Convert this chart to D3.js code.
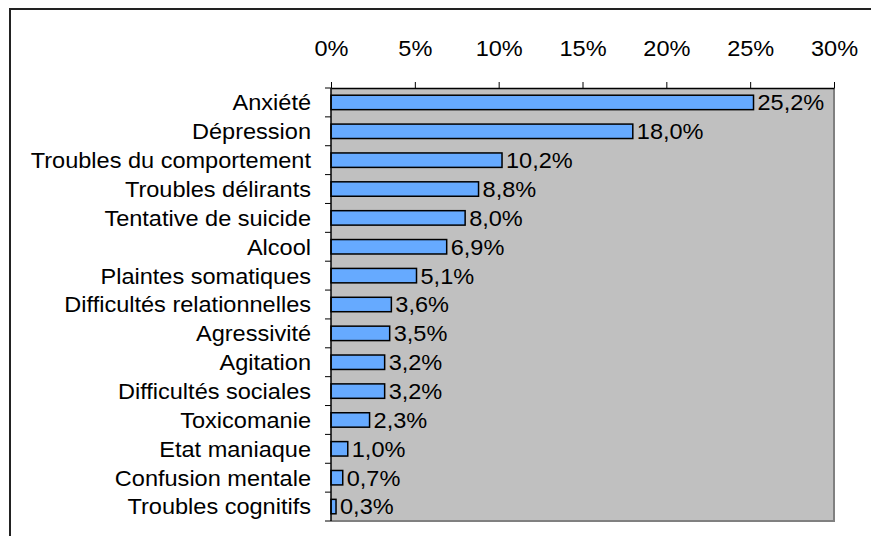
<!DOCTYPE html>
<html>
<head>
<meta charset="utf-8">
<script src="https://cdn.jsdelivr.net/npm/d3@7"></script>
<style>
  body { margin: 0; background: #fff; }
  text { font-family: "Liberation Sans", Arial, sans-serif; }
</style>
</head>
<body>
<div id="vis"></div>
<script>
const categories = ["Anxiété", "Dépression", "Troubles du comportement", "Troubles délirants",
        "Tentative de suicide", "Alcool", "Plaintes somatiques", "Difficultés relationnelles",
        "Agressivité", "Agitation", "Difficultés sociales", "Toxicomanie", "Etat maniaque",
        "Confusion mentale", "Troubles cognitifs"];
const values = [25.2, 18.0, 10.2, 8.8, 8.0, 6.9, 5.1, 3.6, 3.5, 3.2, 3.2, 2.3, 1.0, 0.7, 0.3];
const ticks = [0, 5, 10, 15, 20, 25, 30];

const width = 871;
const height = 536;
const margin = {left: 331, top: 88, right: 37, bottom: 15};
const fontSize = 22;
const stretch = 1.07; // text in the original is drawn a little wide

const svg = d3.select("#vis")
        .append("svg")
        .attr("width", width)
        .attr("height", height);

// outer frame of the chart
svg.append("rect")
        .attr("x", 10)
        .attr("y", 9)
        .attr("width", width + 20)
        .attr("height", height + 20)
        .attr("fill", "#fff")
        .attr("stroke", "#222")
        .attr("stroke-width", 2);

const xScale = d3.scaleLinear()
        .domain([0, 30])
        .range([margin.left, width - margin.right]);

const yScale = d3.scaleBand()
        .domain(categories)
        .range([margin.top, height - margin.bottom])
        .paddingInner(0.5)
        .paddingOuter(0.25);

// plot area
const x0 = xScale(0), x1 = xScale(30);
const y0 = margin.top, y1 = height - margin.bottom;
svg.append("rect")
        .attr("x", x0)
        .attr("y", y0)
        .attr("width", x1 - x0)
        .attr("height", y1 - y0)
        .attr("fill", "#c0c0c0");
svg.append("path")
        .attr("d", "M " + x1 + " " + y0 + " L " + x1 + " " + y1 + " L " + x0 + " " + y1)
        .attr("stroke", "#808080")
        .attr("stroke-width", 2)
        .attr("fill", "none");

// bars
svg.selectAll(".bar")
        .data(values)
        .enter()
        .append("rect")
        .attr("class", "bar")
        .attr("x", x0)
        .attr("y", (d, i) => yScale(categories[i]))
        .attr("width", d => xScale(d) - x0)
        .attr("height", yScale.bandwidth())
        .attr("fill", "#66aaff")
        .attr("stroke", "#000")
        .attr("stroke-width", 1.5);

// value labels
const fmt = d => d.toFixed(1).replace(".", ",") + "%";
svg.selectAll(".val")
        .data(values)
        .enter()
        .append("text")
        .attr("class", "val")
        .attr("transform", (d, i) => "translate(" + (xScale(d) + 4) + "," +
                (yScale(categories[i]) + yScale.bandwidth() / 2) + ") scale(" + stretch + ",1)")
        .attr("dy", "0.36em")
        .attr("font-size", fontSize)
        .attr("fill", "#000")
        .text(fmt);

// top axis
const xAxis = d3.axisTop(xScale)
        .tickValues(ticks)
        .tickFormat(d => d + "%")
        .tickSizeInner(6)
        .tickSizeOuter(0)
        .tickPadding(26);
svg.append("g")
        .attr("transform", "translate(0," + y0 + ")")
        .call(xAxis)
        .call(g => g.select(".domain").attr("stroke", "#000").attr("stroke-width", 1.5))
        .call(g => g.selectAll("line").attr("stroke", "#000"))
        .call(g => g.selectAll("text")
                .attr("font-size", fontSize)
                .attr("font-family", "Liberation Sans, Arial, sans-serif")
                .attr("transform", "scale(" + stretch + ",1)"));

// left axis: ticks at category boundaries
const bounds = d3.range(categories.length + 1).map(i => y0 + i * (y1 - y0) / categories.length);
const gy = svg.append("g");
gy.append("line")
        .attr("x1", x0).attr("x2", x0)
        .attr("y1", y0).attr("y2", y1)
        .attr("stroke", "#000")
        .attr("stroke-width", 1.5);
gy.selectAll(".ytick")
        .data(bounds)
        .enter()
        .append("line")
        .attr("x1", x0 - 6).attr("x2", x0)
        .attr("y1", d => d).attr("y2", d => d)
        .attr("stroke", "#000");
gy.selectAll(".ylab")
        .data(categories)
        .enter()
        .append("text")
        .attr("transform", d => "translate(" + (x0 - 20) + "," +
                (yScale(d) + yScale.bandwidth() / 2) + ") scale(" + stretch + ",1)")
        .attr("dy", "0.36em")
        .attr("text-anchor", "end")
        .attr("font-size", fontSize)
        .attr("fill", "#000")
        .text(d => d);
</script>
</body>
</html>
